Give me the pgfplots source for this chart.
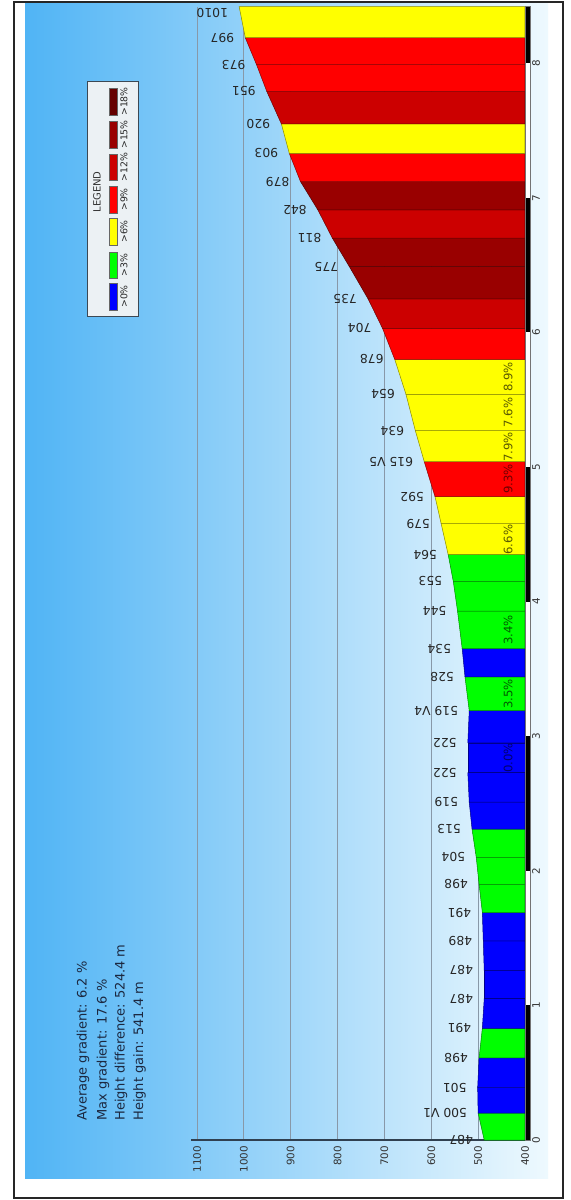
\documentclass[border=0pt]{standalone}
\usepackage{pgfplots}
\pgfplotsset{compat=1.18}
\usepackage{fontspec}
\setmainfont{DejaVu Sans}
\definecolor{cB}{RGB}{0,0,255}
\definecolor{cG}{RGB}{0,255,0}
\definecolor{cY}{RGB}{255,255,0}
\definecolor{cR}{RGB}{255,0,0}
\definecolor{cRb}{RGB}{204,0,0}
\definecolor{cRc}{RGB}{153,0,0}
\definecolor{cRd}{RGB}{102,0,0}
\definecolor{bgL}{RGB}{80,180,245}
\definecolor{bgR}{RGB}{238,249,254}
\definecolor{infoC}{RGB}{28,40,64}
\definecolor{gridC}{RGB}{136,152,168}
\definecolor{axC}{RGB}{48,64,80}
\pgfplotsset{sg/.style={fill=#1, draw=#1!55!black, line width=0.3pt}}
\begin{document}
\begin{tikzpicture}
\useasboundingbox (0,0) rectangle (342.6pt,720pt);
\fill[white] (0,0) rectangle (342.6pt,720pt);
\begin{scope}[x=0.6pt,y=0.6pt]
\shade[left color=bgL, right color=bgR] (25,21) rectangle (548,1197);
\draw[line width=0.8pt, black!85] (14,2) rectangle (563,1198);
% info text
\begin{scope}[font=\fontsize{7.8}{9}\selectfont, text=infoC]
\node[rotate=90, anchor=west, inner sep=0pt] at (83,79) {Average gradient: 6.2 \%};
\node[rotate=90, anchor=west, inner sep=0pt] at (103,79) {Max gradient: 17.6 \%};
\node[rotate=90, anchor=west, inner sep=0pt] at (121,79) {Height difference: 524.4 m};
\node[rotate=90, anchor=west, inner sep=0pt] at (139.5,79) {Height gain: 541.4 m};
\end{scope}
% legend
\draw[fill={rgb,255:red,236;green,241;blue,244}, draw={rgb,255:red,60;green,72;blue,84}, line width=0.6pt] (87,883) rectangle (138,1118);
\node[rotate=90, font=\fontsize{6}{7}\selectfont, text=black!80] at (97,1008) {LEGEND};
\begin{scope}[draw=black!60, line width=0.4pt]
\filldraw[fill=cB]  (109,890) rectangle (117,917);
\filldraw[fill=cG]  (109,922) rectangle (117,948);
\filldraw[fill=cY]  (109,955) rectangle (117,982);
\filldraw[fill=cR]  (109,987) rectangle (117,1014);
\filldraw[fill=cRb] (109,1020) rectangle (117,1046);
\filldraw[fill=cRc] (109,1052) rectangle (117,1079);
\filldraw[fill=cRd] (109,1085) rectangle (117,1112);
\end{scope}
\begin{scope}[font=\fontsize{5.6}{6}\selectfont, text=black!85]
\node[rotate=90] at (124,903.5) {>0\%};
\node[rotate=90] at (124,935) {>3\%};
\node[rotate=90] at (124,968.5) {>6\%};
\node[rotate=90] at (124,1000.5) {>9\%};
\node[rotate=90] at (124,1033) {>12\%};
\node[rotate=90] at (124,1065.5) {>15\%};
\node[rotate=90] at (124,1098.5) {>18\%};
\end{scope}
\end{scope}
\begin{axis}[
  at={(216.6pt,375.99pt)}, anchor=center,
  scale only axis, width=196.8pt, height=680pt,
  x dir=reverse,
  xmin=400, xmax=1100, ymin=0, ymax=8.42,
  clip=false,
  axis x line*=bottom, axis y line=none,
  x axis line style={draw=axC, line width=1.1pt, shorten >=-3.6pt},
  xtick={400,500,...,1100},
  /pgf/number format/1000 sep={},
  /pgf/number format/assume math mode=true,
  major tick length=0pt,
  xmajorgrids, grid style={draw=gridC, line width=0.5pt},
  xticklabel style={rotate=90, anchor=east, inner sep=3.5pt, font=\fontsize{6.2}{7}\selectfont, text=black!80},
  ytick=\empty,
]
\addplot[sg=cG]  coordinates {(400,0.00) (487,0.00) (500,0.20) (400,0.20)} --cycle;
\addplot[sg=cB]  coordinates {(400,0.20) (500,0.20) (501,0.39) (400,0.39)} --cycle;
\addplot[sg=cB]  coordinates {(400,0.39) (501,0.39) (498,0.61) (400,0.61)} --cycle;
\addplot[sg=cG]  coordinates {(400,0.61) (498,0.61) (491,0.83) (400,0.83)} --cycle;
\addplot[sg=cB]  coordinates {(400,0.83) (491,0.83) (487,1.05) (400,1.05)} --cycle;
\addplot[sg=cB]  coordinates {(400,1.05) (487,1.05) (487,1.26) (400,1.26)} --cycle;
\addplot[sg=cB]  coordinates {(400,1.26) (487,1.26) (489,1.48) (400,1.48)} --cycle;
\addplot[sg=cB]  coordinates {(400,1.48) (489,1.48) (491,1.69) (400,1.69)} --cycle;
\addplot[sg=cG]  coordinates {(400,1.69) (491,1.69) (498,1.90) (400,1.90)} --cycle;
\addplot[sg=cG]  coordinates {(400,1.90) (498,1.90) (504,2.10) (400,2.10)} --cycle;
\addplot[sg=cG]  coordinates {(400,2.10) (504,2.10) (513,2.31) (400,2.31)} --cycle;
\addplot[sg=cB]  coordinates {(400,2.31) (513,2.31) (519,2.51) (400,2.51)} --cycle;
\addplot[sg=cB]  coordinates {(400,2.51) (519,2.51) (522,2.73) (400,2.73)} --cycle;
\addplot[sg=cB]  coordinates {(400,2.73) (522,2.73) (522,2.95) (400,2.95)} --cycle;
\addplot[sg=cB]  coordinates {(400,2.95) (522,2.95) (519,3.19) (400,3.19)} --cycle;
\addplot[sg=cG]  coordinates {(400,3.19) (519,3.19) (528,3.44) (400,3.44)} --cycle;
\addplot[sg=cB]  coordinates {(400,3.44) (528,3.44) (534,3.65) (400,3.65)} --cycle;
\addplot[sg=cG]  coordinates {(400,3.65) (534,3.65) (544,3.93) (400,3.93)} --cycle;
\addplot[sg=cG]  coordinates {(400,3.93) (544,3.93) (553,4.15) (400,4.15)} --cycle;
\addplot[sg=cG]  coordinates {(400,4.15) (553,4.15) (564,4.35) (400,4.35)} --cycle;
\addplot[sg=cY]  coordinates {(400,4.35) (564,4.35) (579,4.58) (400,4.58)} --cycle;
\addplot[sg=cY]  coordinates {(400,4.58) (579,4.58) (592,4.78) (400,4.78)} --cycle;
\addplot[sg=cR]  coordinates {(400,4.78) (592,4.78) (615,5.04) (400,5.04)} --cycle;
\addplot[sg=cY]  coordinates {(400,5.04) (615,5.04) (634,5.27) (400,5.27)} --cycle;
\addplot[sg=cY]  coordinates {(400,5.27) (634,5.27) (654,5.54) (400,5.54)} --cycle;
\addplot[sg=cY]  coordinates {(400,5.54) (654,5.54) (678,5.80) (400,5.80)} --cycle;
\addplot[sg=cR]  coordinates {(400,5.80) (678,5.80) (704,6.03) (400,6.03)} --cycle;
\addplot[sg=cRb] coordinates {(400,6.03) (704,6.03) (735,6.25) (400,6.25)} --cycle;
\addplot[sg=cRc] coordinates {(400,6.25) (735,6.25) (775,6.49) (400,6.49)} --cycle;
\addplot[sg=cRc] coordinates {(400,6.49) (775,6.49) (811,6.70) (400,6.70)} --cycle;
\addplot[sg=cRb] coordinates {(400,6.70) (811,6.70) (842,6.91) (400,6.91)} --cycle;
\addplot[sg=cRc] coordinates {(400,6.91) (842,6.91) (879,7.12) (400,7.12)} --cycle;
\addplot[sg=cR]  coordinates {(400,7.12) (879,7.12) (903,7.33) (400,7.33)} --cycle;
\addplot[sg=cY]  coordinates {(400,7.33) (903,7.33) (920,7.55) (400,7.55)} --cycle;
\addplot[sg=cRb] coordinates {(400,7.55) (920,7.55) (951,7.79) (400,7.79)} --cycle;
\addplot[sg=cR]  coordinates {(400,7.79) (951,7.79) (973,7.99) (400,7.99)} --cycle;
\addplot[sg=cR]  coordinates {(400,7.99) (973,7.99) (997,8.19) (400,8.19)} --cycle;
\addplot[sg=cY]  coordinates {(400,8.19) (997,8.19) (1010,8.42) (400,8.42)} --cycle;
% elevation labels
\pgfplotsset{elev/.style={draw=none, mark=none, nodes near coords, point meta=explicit symbolic,
  nodes near coords style={#1, rotate=180, anchor=west, inner xsep=6.5pt, inner ysep=0pt, font=\fontsize{7.4}{8}\selectfont, text=black!85}}}
\addplot[elev={}]
  coordinates {
  (487,0.00) [487] (500,0.20) [500 V1] (501,0.39) [501] (498,0.61) [498] (491,0.83) [491]
  (487,1.05) [487] (487,1.26) [487] (489,1.48) [489] (491,1.69) [491] (498,1.90) [498]
  (504,2.10) [504] (513,2.31) [513] (519,2.51) [519] (522,2.73) [522] (522,2.95) [522]
  (519,3.19) [519 V4] (528,3.44) [528] (534,3.65) [534] (544,3.93) [544] (553,4.15) [553]
  (564,4.35) [564] (579,4.58) [579] (592,4.78) [592] (615,5.04) [615 V5] (634,5.27) [634]
  (654,5.54) [654] (678,5.80) [678] (704,6.03) [704] (735,6.25) [735] (775,6.49) [775]
  (811,6.70) [811] (842,6.91) [842] (879,7.12) [879] (903,7.33) [903] (920,7.55) [920]
  (951,7.79) [951] (973,7.99) [973] (997,8.19) [997]
  };
\addplot[elev={yshift=-4pt}] coordinates {(1010,8.42) [1010]};
% gradient labels
\addplot[draw=none, mark=none, nodes near coords, point meta=explicit symbolic,
  nodes near coords style={rotate=90, anchor=center, inner sep=0pt, font=\fontsize{7}{8}\selectfont, text={rgb,255:red,90;green,90;blue,0}}]
  coordinates {(436,4.46) [6.6\%] (436,5.15) [7.9\%] (436,5.405) [7.6\%] (436,5.67) [8.9\%]};
\addplot[draw=none, mark=none, nodes near coords, point meta=explicit symbolic,
  nodes near coords style={rotate=90, anchor=center, inner sep=0pt, font=\fontsize{7}{8}\selectfont, text={rgb,255:red,0;green,90;blue,0}}]
  coordinates {(436,3.315) [3.5\%] (436,3.79) [3.4\%]};
\addplot[draw=none, mark=none, nodes near coords, point meta=explicit symbolic,
  nodes near coords style={rotate=90, anchor=center, inner sep=0pt, font=\fontsize{7}{8}\selectfont, text={rgb,255:red,110;green,0;blue,0}}]
  coordinates {(436,4.91) [9.3\%]};
\addplot[draw=none, mark=none, nodes near coords, point meta=explicit symbolic,
  nodes near coords style={rotate=90, anchor=center, inner sep=0pt, font=\fontsize{7}{8}\selectfont, text={rgb,255:red,0;green,0;blue,110}}]
  coordinates {(436,2.84) [0.0\%]};
% distance bar
\fill[black] (axis cs:400,0) rectangle ([xshift=3pt]axis cs:400,1);
\fill[white] (axis cs:400,1) rectangle ([xshift=3pt]axis cs:400,2);
\fill[black] (axis cs:400,2) rectangle ([xshift=3pt]axis cs:400,3);
\fill[white] (axis cs:400,3) rectangle ([xshift=3pt]axis cs:400,4);
\fill[black] (axis cs:400,4) rectangle ([xshift=3pt]axis cs:400,5);
\fill[white] (axis cs:400,5) rectangle ([xshift=3pt]axis cs:400,6);
\fill[black] (axis cs:400,6) rectangle ([xshift=3pt]axis cs:400,7);
\fill[white] (axis cs:400,7) rectangle ([xshift=3pt]axis cs:400,8);
\fill[black] (axis cs:400,8) rectangle ([xshift=3pt]axis cs:400,8.42);
\draw[black!55, line width=0.3pt] (axis cs:400,0) rectangle ([xshift=3pt]axis cs:400,8.42);
% distance labels
\addplot[draw=none, mark=none, nodes near coords, point meta=explicit symbolic,
  nodes near coords style={rotate=90, anchor=north, inner xsep=0pt, inner ysep=4.2pt, font=\fontsize{6.2}{7}\selectfont, text=black!80}]
  coordinates {(400,0) [0] (400,1) [1] (400,2) [2] (400,3) [3] (400,4) [4] (400,5) [5] (400,6) [6] (400,7) [7] (400,8) [8]};
\end{axis}
\end{tikzpicture}
\end{document}
